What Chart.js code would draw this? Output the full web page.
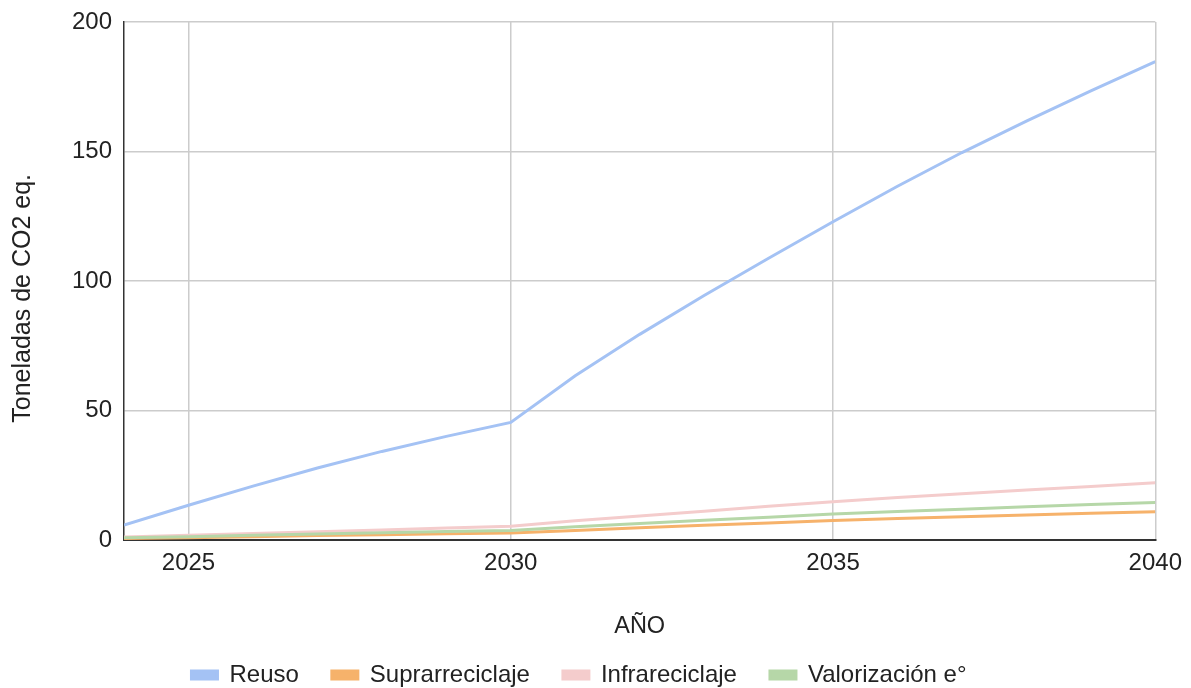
<!DOCTYPE html>
<html>
<head>
<meta charset="utf-8">
<script src="https://cdn.jsdelivr.net/npm/chart.js@4.4.0/dist/chart.umd.min.js"></script>
<style>
  html, body { margin: 0; padding: 0; background: #fff; }
  #wrap { width: 1191px; height: 688px; }
</style>
</head>
<body>
<div id="wrap"><canvas id="c" width="1191" height="688"></canvas></div>
<script>
// Years and CO2-eq tonnes per recovery route
const years = [2024, 2025, 2026, 2027, 2028, 2029, 2030, 2031, 2032, 2033, 2034, 2035, 2036, 2037, 2038, 2039, 2040];
const reuso = [5.8, 13.4, 20.8, 27.8, 34.2, 40.0, 45.4, 63.4, 79.4, 94.4, 108.8, 122.9, 136.6, 149.6, 161.7, 173.4, 184.7];
const suprarreciclaje = [0.6, 0.9, 1.3, 1.7, 2.0, 2.4, 2.7, 3.7, 4.7, 5.7, 6.6, 7.5, 8.3, 9.0, 9.7, 10.3, 10.9];
const infrareciclaje = [1.2, 1.8, 2.5, 3.2, 3.9, 4.6, 5.3, 7.4, 9.3, 11.1, 13.0, 14.8, 16.4, 17.9, 19.3, 20.7, 22.1];
const valorizacion = [0.9, 1.3, 1.8, 2.3, 2.8, 3.3, 3.7, 5.1, 6.4, 7.6, 8.8, 10.0, 11.0, 11.9, 12.8, 13.7, 14.5];

const seriesNames = ['Reuso', 'Suprarreciclaje', 'Infrareciclaje', 'Valorización e°'];
const seriesColors = ['#a4c2f4', '#f6b26b', '#f4cccc', '#b6d7a8'];
const xTickValues = [2025, 2030, 2035, 2040];
const yTickValues = [0, 50, 100, 150, 200];

const FONT = '"Liberation Sans", Arial, sans-serif';
const TEXT = '#222222';

const seriesValues = [reuso, suprarreciclaje, infrareciclaje, valorizacion];
const datasets = seriesValues.map((vals, i) => ({
  label: seriesNames[i],
  data: years.map((yr, k) => ({ x: yr, y: vals[k] })),
  borderColor: seriesColors[i],
  backgroundColor: seriesColors[i],
  borderWidth: 3,
  pointRadius: 0,
  pointHoverRadius: 0,
  tension: 0,
  fill: false,
  // later series are painted over earlier ones
  order: seriesValues.length - i
}));

// nudge the legend row a little to the left of the canvas centre
const legendNudge = {
  id: 'legendNudge',
  afterLayout(chart) {
    if (chart.legend) {
      chart.legend.left -= 12;
      chart.legend.right -= 12;
    }
  }
};

new Chart(document.getElementById('c'), {
  type: 'line',
  data: { datasets },
  plugins: [legendNudge],
  options: {
    responsive: false,
    animation: false,
    layout: { padding: { top: 22, right: 17, bottom: -9, left: 8 } },
    plugins: {
      tooltip: { enabled: false },
      legend: {
        position: 'bottom',
        labels: {
          font: { family: FONT, size: 24 },
          color: TEXT,
          boxWidth: 26,
          boxHeight: 8,
          padding: 33,
          sort: (a, b) => a.datasetIndex - b.datasetIndex
        }
      }
    },
    scales: {
      x: {
        type: 'linear',
        min: years[0],
        max: years[years.length - 1],
        afterBuildTicks: (axis) => { axis.ticks = xTickValues.map(v => ({ value: v })); },
        ticks: {
          font: { family: FONT, size: 24 },
          color: TEXT,
          padding: 9,
          maxRotation: 0,
          callback: (v) => String(v)
        },
        grid: { color: '#cccccc', lineWidth: 1.5, drawTicks: false },
        border: { color: '#333333', width: 2 },
        title: {
          display: true,
          text: 'AÑO',
          font: { family: FONT, size: 23.5 },
          color: TEXT,
          padding: { top: 26, bottom: -11 }
        }
      },
      y: {
        min: 0,
        max: 200,
        afterBuildTicks: (axis) => { axis.ticks = yTickValues.map(v => ({ value: v })); },
        // the top label may sit above the plot edge; the layout padding leaves room for it
        afterFit: (axis) => { axis.paddingTop = 0; },
        ticks: {
          font: { family: FONT, size: 24 },
          color: TEXT,
          padding: 12
        },
        grid: { color: '#cccccc', lineWidth: 1.5, drawTicks: false },
        border: { color: '#333333', width: 1.5 },
        title: {
          display: true,
          text: 'Toneladas de CO2 eq.     ',
          font: { family: FONT, size: 25 },
          color: TEXT,
          padding: { top: 0, bottom: 22 }
        }
      }
    }
  }
});
</script>
</body>
</html>
